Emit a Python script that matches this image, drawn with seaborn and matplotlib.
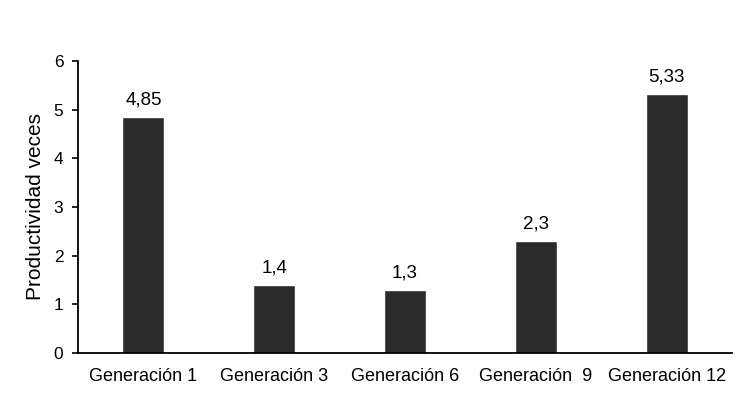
import matplotlib
matplotlib.use("Agg")
import matplotlib.pyplot as plt
import seaborn as sns
import pandas as pd

categories = ["Generación 1", "Generación 3", "Generación 6", "Generación  9", "Generación 12"]
values = [4.85, 1.4, 1.3, 2.3, 5.33]
value_labels = ["4,85", "1,4", "1,3", "2,3", "5,33"]
yticks = [0, 1, 2, 3, 4, 5, 6]

sns.set_style("white")
plt.rcParams["font.family"] = ["Liberation Sans", "DejaVu Sans"]
plt.rcParams["text.color"] = "black"
plt.rcParams["axes.labelcolor"] = "black"
plt.rcParams["xtick.color"] = "black"
plt.rcParams["ytick.color"] = "black"

df = pd.DataFrame({"cat": categories, "val": values})
fig = plt.figure(figsize=(7.54, 3.98), dpi=100)
ax = fig.add_axes([78/754, 1 - 353/398, (732-78)/754, (353-61)/398])
sns.barplot(data=df, x="cat", y="val", color="#2b2b2b", width=0.32, ax=ax, saturation=1)
ax.set_ylim(0, 6)
ax.set_xlim(-0.5, len(categories) - 0.5)
ax.set_yticks(yticks)
ax.set_yticklabels([str(t) for t in yticks], fontsize=12.5)
ax.set_xlabel("")
ax.set_ylabel("Productividad veces", fontsize=15, labelpad=6)
ax.tick_params(axis="x", length=0, labelsize=13, pad=11)
ax.tick_params(axis="y", left=True, length=4.5, width=1.2, color="black", pad=6)
for s in ["top", "right"]:
    ax.spines[s].set_visible(False)
for s in ["left", "bottom"]:
    ax.spines[s].set_color("black")
    ax.spines[s].set_linewidth(1.3)
for i, (v, lab) in enumerate(zip(values, value_labels)):
    ax.annotate(lab, (i, v), xytext=(0, 6), textcoords="offset points",
                ha="center", va="bottom", fontsize=13.5, color="black")
fig.savefig("out.png", dpi=100)
